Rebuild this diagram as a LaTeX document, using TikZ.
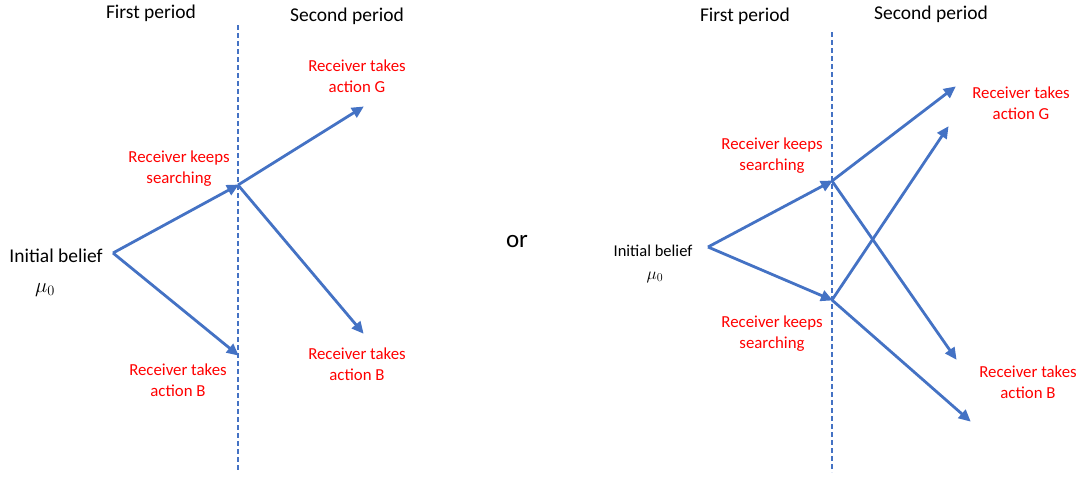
\documentclass[tikz,border=0pt]{standalone}
\usepackage{fontspec}
\setmainfont{Carlito}
\usetikzlibrary{arrows.meta}
\definecolor{lineblue}{HTML}{4472C4}
\definecolor{labred}{HTML}{FF0000}
\tikzset{
  arr/.style={draw=lineblue, line width=2.8pt, -{Triangle[length=12pt,width=11pt]}, shorten >=-1pt},
  divider/.style={draw=lineblue, line width=1.2pt, dash pattern=on 5pt off 3pt},
  lab/.style={text=labred, align=center, inner sep=0pt, font=\fontsize{16.8}{21}\selectfont},
  head/.style={inner sep=0pt, font=\fontsize{19.5}{23}\selectfont},
  headr/.style={inner sep=0pt, font=\fontsize{16.5}{21}\selectfont},
}
\begin{document}
\begin{tikzpicture}[x=1pt,y=-1pt]
\useasboundingbox (0,0) rectangle (1083,479);
% ---------- left diagram ----------
\coordinate (dl1) at (238,25);
\coordinate (dl2) at (238,470);
\draw[divider] (dl1) -- (dl2);
\node[head] (fp1) at (151,13) {First period};
\node[head] (sp1) at (347,16) {Second period};
\node[head] (ib1) at (56,256) {Initial belief};
\node[head] (mu1) at (45,290) {$\mu_0$};
\coordinate (O1) at (113,253);
\coordinate (K1) at (238,185);
\coordinate (B1) at (238,355);
\coordinate (G1) at (363,107);
\coordinate (B1b) at (363,333);
\draw[arr] (O1) -- (K1);
\draw[arr] (O1) -- (B1);
\draw[arr] (K1) -- (G1);
\draw[arr] (K1) -- (B1b);
\node[lab] (lk1) at (179,169) {Receiver keeps\\searching};
\node[lab] (lg1) at (357,76) {Receiver takes\\action G};
\node[lab] (lb1) at (178,380) {Receiver takes\\action B};
\node[lab] (lb1b) at (357,364) {Receiver takes\\action B};
% ---------- or ----------
\node[inner sep=0pt, font=\fontsize{25}{30}\selectfont] (or) at (517,242) {or};
% ---------- right diagram ----------
\coordinate (dr1) at (832,32);
\coordinate (dr2) at (832,472);
\draw[divider] (dr1) -- (dr2);
\node[head] (fp2) at (745,16) {First period};
\node[head] (sp2) at (931,14) {Second period};
\node[headr] (ib2) at (653,251) {Initial belief};
\node[headr] (mu2) at (655,277) {$\mu_0$};
\coordinate (O2) at (708,247);
\coordinate (K2a) at (832,181);
\coordinate (K2b) at (832,300);
\coordinate (G2a) at (955,87);
\coordinate (B2a) at (956,359);
\coordinate (G2b) at (948,127);
\coordinate (B2b) at (970,421);
\draw[arr] (O2) -- (K2a);
\draw[arr] (O2) -- (K2b);
\draw[arr] (K2a) -- (G2a);
\draw[arr] (K2a) -- (B2a);
\draw[arr] (K2b) -- (G2b);
\draw[arr] (K2b) -- (B2b);
\node[lab] (lk2a) at (772,156) {Receiver keeps\\searching};
\node[lab] (lk2b) at (772,334) {Receiver keeps\\searching};
\node[lab] (lg2) at (1021,103) {Receiver takes\\action G};
\node[lab] (lb2) at (1028,382) {Receiver takes\\action B};
\end{tikzpicture}
\end{document}
